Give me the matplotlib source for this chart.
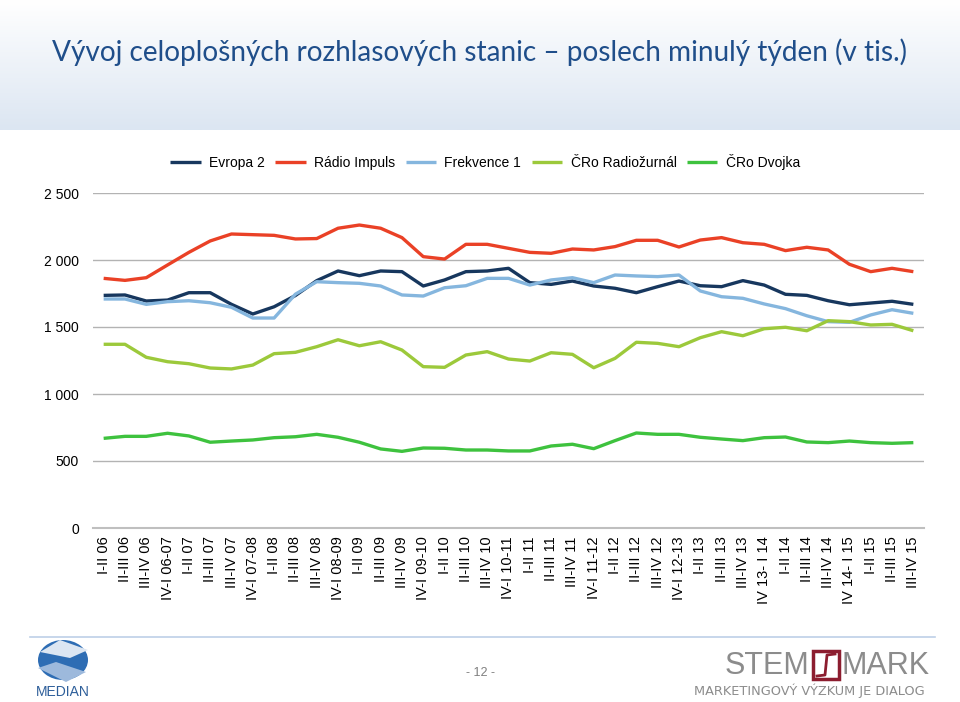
import numpy as np
import matplotlib
matplotlib.use('Agg')
import matplotlib.pyplot as plt
from matplotlib.colors import LinearSegmentedColormap
from matplotlib.patches import Rectangle, Polygon, Ellipse

# data (thousands of listeners)
periods = ['I-II 06', 'II-III 06', 'III-IV 06', 'IV-I 06-07', 'I-II 07', 'II-III 07', 'III-IV 07',
           'IV-I 07-08', 'I-II 08', 'II-III 08', 'III-IV 08', 'IV-I 08-09', 'I-II 09', 'II-III 09',
           'III-IV 09', 'IV-I 09-10', 'I-II 10', 'II-III 10', 'III-IV 10', 'IV-I 10-11', 'I-II 11',
           'II-III 11', 'III-IV 11', 'IV-I 11-12', 'I-II 12', 'II-III 12', 'III-IV 12', 'IV-I 12-13',
           'I-II 13', 'II-III 13', 'III-IV 13', 'IV 13- I 14', 'I-II 14', 'II-III 14', 'III-IV 14',
           'IV 14- I 15', 'I-II 15', 'II-III 15', 'III-IV 15']

evropa2 = [1736, 1739, 1694, 1701, 1756, 1756, 1669, 1597, 1651, 1735, 1846, 1918, 1883, 1918,
           1913, 1806, 1851, 1913, 1918, 1938, 1831, 1818, 1843, 1806, 1789, 1756, 1801, 1843,
           1808, 1801, 1846, 1813, 1744, 1736, 1696, 1666, 1679, 1692, 1669]
impuls = [1863, 1848, 1868, 1963, 2057, 2142, 2194, 2189, 2184, 2157, 2160, 2237, 2261, 2237,
          2167, 2025, 2007, 2117, 2117, 2087, 2057, 2050, 2082, 2075, 2100, 2147, 2147, 2097,
          2149, 2167, 2129, 2117, 2070, 2095, 2075, 1968, 1913, 1938, 1913]
frekvence1 = [1709, 1709, 1669, 1689, 1696, 1681, 1647, 1567, 1567, 1745, 1838, 1831, 1826, 1806,
              1739, 1731, 1793, 1808, 1863, 1863, 1813, 1851, 1868, 1831, 1888, 1881, 1876, 1888,
              1769, 1726, 1714, 1672, 1637, 1584, 1540, 1535, 1590, 1629, 1602]
radiozurnal = [1371, 1371, 1274, 1241, 1226, 1194, 1187, 1216, 1301, 1311, 1353, 1405, 1360, 1390,
               1328, 1204, 1199, 1291, 1316, 1261, 1246, 1308, 1296, 1196, 1266, 1386, 1378, 1353,
               1420, 1465, 1435, 1487, 1498, 1472, 1547, 1540, 1515, 1520, 1472]
dvojka = [669, 684, 684, 707, 687, 640, 649, 657, 674, 681, 699, 677, 640, 590,
          572, 597, 595, 582, 582, 575, 575, 612, 625, 592, 652, 709, 699, 699,
          677, 664, 652, 674, 679, 642, 637, 649, 637, 632, 637]

series_names = ['Evropa 2', 'Rádio Impuls', 'Frekvence 1', 'ČRo Radiožurnál', 'ČRo Dvojka']
series_values = [evropa2, impuls, frekvence1, radiozurnal, dvojka]
series_colors = ['#17375E', '#EA4126', '#85B6DE', '#9CC93B', '#3EC23E']

y_ticks = [0, 500, 1000, 1500, 2000, 2500]
y_tick_labels = ['0', '500', '1 000', '1 500', '2 000', '2 500']

plt.rcParams['font.family'] = ['Liberation Sans', 'DejaVu Sans']

W, H = 960, 702
fig = plt.figure(figsize=(W / 100, H / 100), dpi=100)

# background / decoration layer in pixel coords
bg = fig.add_axes([0, 0, 1, 1], zorder=0)
bg.set_xlim(0, W)
bg.set_ylim(H, 0)
bg.axis('off')
grad = np.linspace(0, 1, 130)[:, None]
cmap = LinearSegmentedColormap.from_list('hdr', ['#FFFFFF', '#DCE6F2'])
bg.imshow(grad, extent=[0, W, 130, 0], cmap=cmap, aspect='auto', interpolation='bilinear')

title = bg.text(480, 52, 'Vývoj celoplošných rozhlasových stanic – poslech minulý týden (v tis.)',
                ha='center', va='center', fontsize=20, color='#1F4E8A', family=['Lato', 'DejaVu Sans'])
# shrink/grow the title so it spans the same width as in the slide (~856 px)
renderer = fig.canvas.get_renderer()
tw = title.get_window_extent(renderer).width
title.set_fontsize(20 * 856 / tw)

# footer
bg.plot([30, 935], [637, 637], color='#BDD0E8', lw=1.2)
bg.text(480, 673, '- 12 -', ha='center', va='center', fontsize=9, color='#7F7F7F')

# MEDIAN logo (rough)
bg.add_patch(Ellipse((63, 660), 50, 40, facecolor='#2E6DB4', edgecolor='none'))
bg.add_patch(Polygon([[40, 652], [60, 640], [88, 650], [70, 658]], closed=True, facecolor='#DCE6F2'))
bg.add_patch(Polygon([[38, 668], [56, 662], [86, 672], [66, 682]], closed=True, facecolor='#9DB9DC'))
bg.text(63, 692, 'MEDIAN', ha='center', va='center', fontsize=10, color='#2E5F9A')

# STEM/MARK logo (rough)
bg.text(809, 666, 'STEM', ha='right', va='center', fontsize=22, color='#8C8C8C')
bg.add_patch(Rectangle((813, 651), 26, 28, facecolor='white', edgecolor='#8C1D2F', lw=2.5))
bg.plot([817, 825, 827, 835], [676, 675, 655, 654], color='#8C1D2F', lw=2)
bg.text(842, 666, 'MARK', ha='left', va='center', fontsize=22, color='#8C8C8C')
bg.text(925, 691, 'MARKETINGOVÝ VÝZKUM JE DIALOG', ha='right', va='center', fontsize=9.3,
        color='#8C8C8C', family='DejaVu Sans')

# chart
ax = fig.add_axes([93 / W, (H - 528) / H, (924 - 93) / W, (528 - 193) / H], zorder=1)
ax.patch.set_alpha(0)
x = np.arange(len(periods))
for name, vals, col in zip(series_names, series_values, series_colors):
    ax.plot(x, vals, color=col, lw=2.4, label=name, solid_joinstyle='round', solid_capstyle='butt')

ax.set_xlim(-0.5, len(periods) - 0.5)
ax.set_ylim(0, 2500)
ax.set_yticks(y_ticks)
ax.set_yticklabels(y_tick_labels)
ax.set_xticks(x)
ax.set_xticklabels(periods, rotation=90, va='top', ha='center')
ax.tick_params(axis='both', length=0, labelsize=10, colors='black')
ax.tick_params(axis='y', pad=10)
ax.tick_params(axis='x', pad=6, labelsize=10.5)
ax.grid(axis='y', color='#B3B3B3', lw=1)
ax.set_axisbelow(True)
for s in ['top', 'right', 'left']:
    ax.spines[s].set_visible(False)
ax.spines['bottom'].set_color('#BFBFBF')
ax.spines['bottom'].set_linewidth(1.5)

fig.legend(loc='center', bbox_to_anchor=(485 / W, 1 - 162 / H), ncol=5, frameon=False,
           fontsize=10, handlelength=2.2, handletextpad=0.6, columnspacing=0.75)

fig.savefig('out.png', dpi=100)
